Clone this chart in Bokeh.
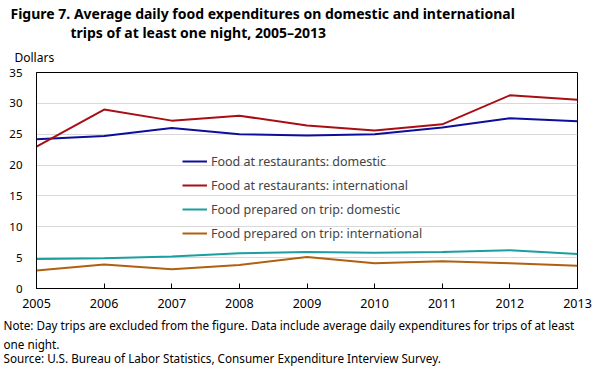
from bokeh.plotting import figure
from bokeh.models import Range1d, Legend, LegendItem, FixedTicker, Title
from bokeh.embed import file_html
from bokeh.resources import INLINE

years = [2005, 2006, 2007, 2008, 2009, 2010, 2011, 2012, 2013]
rest_domestic = [24.2, 24.7, 26.0, 25.0, 24.8, 25.0, 26.1, 27.6, 27.1]
rest_international = [23.0, 29.0, 27.2, 28.0, 26.4, 25.6, 26.6, 31.3, 30.6]
prep_domestic = [4.8, 4.9, 5.2, 5.7, 5.9, 5.8, 5.9, 6.2, 5.6]
prep_international = [2.9, 3.9, 3.1, 3.8, 5.1, 4.1, 4.4, 4.1, 3.7]
series_names = ["Food at restaurants: domestic", "Food at restaurants: international",
                "Food prepared on trip: domestic", "Food prepared on trip: international"]
colors = ["#0e0e9c", "#a80f14", "#1a9e9e", "#b0600e"]
y_ticks = [0, 5, 10, 15, 20, 25, 30, 35]

title_line1 = "Figure 7. Average daily food expenditures on domestic and international"
title_line2 = "trips of at least one night, 2005\u20132013"
y_unit = "Dollars"
notes = ["Note: Day trips are excluded from the figure. Data include average daily expenditures for trips of at least",
         "one night.",
         "Source: U.S. Bureau of Labor Statistics, Consumer Expenditure Interview Survey."]

FONT = "Noto Sans"

p = figure(width=599, height=376, output_backend="svg", toolbar_location=None,
           x_range=Range1d(2005, 2013), y_range=Range1d(0, 35),
           min_border_left=36, min_border_right=22, min_border_top=72, min_border_bottom=88)
p.title = None
p.outline_line_color = "black"
p.outline_line_width = 1
p.background_fill_color = "white"
p.border_fill_color = "white"

p.xgrid.grid_line_color = None
p.ygrid.grid_line_color = "#d9d9d9"
p.ygrid.grid_line_width = 1

p.xaxis.ticker = FixedTicker(ticks=years)
p.yaxis.ticker = FixedTicker(ticks=y_ticks)
for ax in (p.xaxis[0], p.yaxis[0]):
    ax.axis_line_color = "black"
    ax.minor_tick_line_color = None
    ax.major_label_text_font = FONT
    ax.major_label_text_color = "black"
p.xaxis.major_label_text_font_size = "12.5px"
p.yaxis.major_label_text_font_size = "11.5px"
p.xaxis.major_tick_in = 5
p.xaxis.major_tick_out = 0
p.xaxis.major_tick_line_color = "black"
p.xaxis.major_label_standoff = 10
p.yaxis.major_tick_in = 0
p.yaxis.major_tick_out = 0
p.yaxis.major_label_standoff = 14

series = [rest_domestic, rest_international, prep_domestic, prep_international]
items = []
for name, vals, c in zip(series_names, series, colors):
    r = p.line(years, vals, line_color=c, line_width=2)
    items.append(LegendItem(label=name, renderers=[r]))

legend = Legend(items=items, location=(146, 45), orientation="vertical",
                background_fill_alpha=0, border_line_color=None,
                label_text_font=FONT, label_text_font_size="12.5px",
                glyph_width=25, glyph_height=20, label_height=20, spacing=4,
                padding=0, margin=0, label_standoff=4)
p.add_layout(legend, "center")

def ttl(text, place, size, bold=False, offset=-26, standoff=0):
    p.add_layout(Title(text=text, align="left", offset=offset, standoff=standoff,
                       text_font=FONT, text_font_size=size,
                       text_font_style="bold" if bold else "normal",
                       text_color="black"), place)

ttl(y_unit, "above", "12px", offset=-22, standoff=13)
ttl(title_line2, "above", "14px", True, offset=34, standoff=-3)
ttl(title_line1, "above", "14px", True, offset=-26, standoff=0)
ttl(notes[0], "below", "11.7px", offset=-33, standoff=8)
ttl(notes[1], "below", "11.7px", offset=-33, standoff=-6)
ttl(notes[2], "below", "11.7px", offset=-33, standoff=-1)

open("out.html", "w").write(file_html(p, INLINE))
